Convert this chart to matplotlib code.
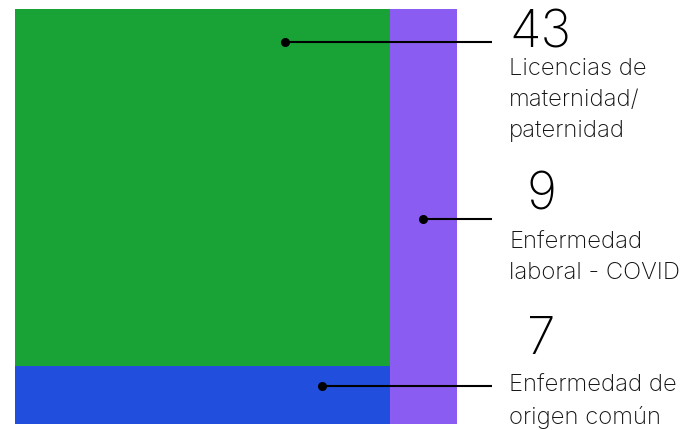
import matplotlib
matplotlib.use("Agg")
import matplotlib.pyplot as plt

# data
labels = ["Licencias de\nmaternidad/\npaternidad",
          "Enfermedad\nlaboral - COVID",
          "Enfermedad de\norigen común"]
values = [43, 9, 7]
colors = ["#19A337", "#8B5CF1", "#214EDC"]

GREEN, PURPLE, BLUE = 0, 1, 2

plt.rcParams["font.family"] = ["Inter", "DejaVu Sans"]

W_PX, H_PX = 698, 431
fig = plt.figure(figsize=(W_PX / 100, H_PX / 100), dpi=100)
ax = fig.add_axes([0, 0, 1, 1])
ax.set_xlim(0, W_PX)
ax.set_ylim(H_PX, 0)
ax.axis("off")

# treemap region (pixels)
X0, Y0, W, H = 15, 10, 442, 415
total = sum(values)

# slice-and-dice: left column (green over blue), right column purple
left_w = W * (values[GREEN] + values[BLUE]) / total
green_h = H * values[GREEN] / (values[GREEN] + values[BLUE])
cells = {
    GREEN:  (X0, Y0, left_w, green_h),
    BLUE:   (X0, Y0 + green_h, left_w, H - green_h),
    PURPLE: (X0 + left_w, Y0, W - left_w, H),
}
for i, (x, y, w, h) in cells.items():
    ax.bar(x, h, width=w, bottom=y, align="edge", color=colors[i],
           linewidth=0)

# callouts: line y, dot x-fraction inside cell, number baseline, label top
LINE_END = 492
callouts = {
    GREEN:  dict(ly=43, fx=0.72, num=(509, 48), lab=(509, 58)),
    PURPLE: dict(ly=220, fx=0.5, num=(526, 210), lab=(509, 231)),
    BLUE:   dict(ly=387, fx=0.82, num=(527, 354), lab=(509, 374)),
}
for i, c in callouts.items():
    x, y, w, h = cells[i]
    dx = x + c["fx"] * w
    ax.plot([dx, LINE_END], [c["ly"], c["ly"]], color="black", lw=1.5,
            solid_capstyle="butt")
    ax.plot(dx, c["ly"], "o", color="black", ms=5.5)
    ax.text(*c["num"], str(values[i]), fontsize=37, fontweight="light",
            va="baseline", ha="left", color="black")
    ax.text(*c["lab"], labels[i], fontsize=17.2, fontweight="light",
            va="top", ha="left", color="#111111", linespacing=1.53)

fig.savefig("out.png", dpi=100, facecolor="white")
